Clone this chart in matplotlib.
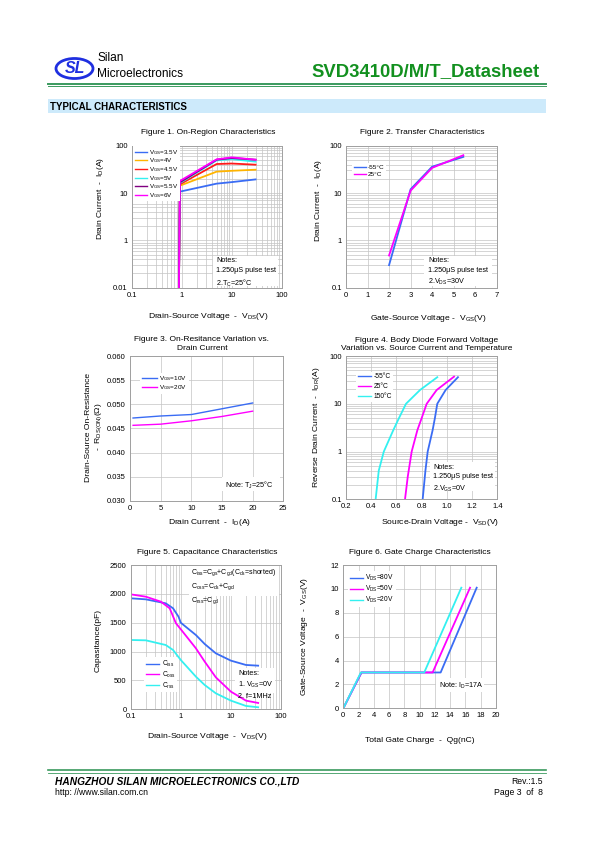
import matplotlib
matplotlib.use('Agg')
import matplotlib.pyplot as plt
import numpy as np
from matplotlib.patches import Ellipse, Rectangle
from matplotlib.ticker import FixedLocator, FixedFormatter, NullFormatter, LogLocator, MultipleLocator

plt.rcParams['font.family'] = ['Liberation Sans', 'DejaVu Sans']
plt.rcParams['mathtext.fontset'] = 'custom'
plt.rcParams['mathtext.rm'] = 'Liberation Sans'
plt.rcParams['mathtext.it'] = 'Liberation Sans'
plt.rcParams['mathtext.bf'] = 'Liberation Sans:bold'

# ---------------- data ----------------
# Figure 1: On-region characteristics
f1_vds = [0.88, 0.92, 5, 10, 30]
f1_labels = ['V$_{GS}$=3.5V', 'V$_{GS}$=4V', 'V$_{GS}$=4.5V', 'V$_{GS}$=5V', 'V$_{GS}$=5.5V', 'V$_{GS}$=6V']
f1_id_35 = [0.1, 10.7, 15.8, 17.0, 19.4]
f1_id_40 = [0.1, 14.3, 28.3, 29.5, 31.1]
f1_id_45 = [0.1, 15.3, 41.0, 42.0, 39.7]
f1_id_50 = [0.1, 16.2, 49.0, 52.0, 46.0]
f1_id_55 = [0.1, 16.8, 50.6, 54.9, 50.6]
f1_id_60 = [0.1, 18.0, 51.5, 56.7, 50.6]

# Figure 2: Transfer characteristics
f2_vgs = [2, 3, 4, 5.45]
f2_id_m55 = [0.30, 12.0, 36.0, 58.0]
f2_id_25 = [0.48, 11.2, 34.0, 63.0]

# Figure 3: On-resistance vs drain current
f3_id = [0.5, 5, 10, 15, 20]
f3_r_10v = [0.04718, 0.0476, 0.0479, 0.0491, 0.0503]
f3_r_20v = [0.04566, 0.0459, 0.0466, 0.0475, 0.0486]

# Figure 4: Body diode forward voltage
f4_v_150 = [0.435, 0.46, 0.50, 0.575, 0.62, 0.676, 0.787, 0.924]
f4_i_150 = [0.1, 0.4, 1.0, 2.8, 5.0, 10.0, 19.4, 36.0]
f4_v_25 = [0.668, 0.69, 0.721, 0.766, 0.80, 0.84, 0.919, 1.057]
f4_i_25 = [0.1, 0.3, 1.0, 2.8, 5.0, 10.0, 19.4, 37.0]
f4_v_m55 = [0.808, 0.83, 0.848, 0.887, 0.905, 0.924, 0.99, 1.088]
f4_i_m55 = [0.1, 0.4, 1.0, 2.8, 5.0, 10.0, 19.4, 36.0]

# Figure 5: Capacitance
f5_vds = [0.1, 0.2, 0.5, 0.7, 0.9, 1.0, 2, 3, 5, 10, 20, 35]
f5_ciss = [1923, 1905, 1836, 1750, 1605, 1500, 1287, 1131, 970, 843, 768, 756]
f5_vds_b = [0.1, 0.2, 0.4, 0.6, 0.8, 1.0, 2, 3, 5, 10, 20, 35]
f5_coss = [1992, 1951, 1865, 1750, 1490, 1386, 1057, 826, 554, 306, 150, 110]
f5_vds_c = [0.1, 0.2, 0.5, 0.7, 1.0, 2, 3, 5, 10, 20, 35]
f5_crss = [1201, 1195, 1114, 1028, 854, 566, 421, 277, 150, 58, 35]

# Figure 6: Gate charge
f6_q_80 = [0, 2.4, 12.75, 17.47]
f6_q_50 = [0, 2.35, 11.7, 16.6]
f6_q_20 = [0, 2.3, 10.6, 15.46]
f6_vgs = [0, 3.0, 3.0, 10.1]

BLUE = '#3a6cf4'
MAG = '#ff00ff'
CYAN = '#33f0f0'
ORANGE = '#ffb400'
RED = '#ff1a1a'
PURPLE = '#800080'
GRID = '#c4c4c4'
SPINE = '#a0a0a0'

W, H = 595, 842
fig = plt.figure(figsize=(W / 100, H / 100), dpi=100)


def pax(x0, y0, x1, y1):
    return fig.add_axes([x0 / W, 1 - y1 / H, (x1 - x0) / W, (y1 - y0) / H])


def style(ax):
    for s in ax.spines.values():
        s.set_color(SPINE)
        s.set_linewidth(0.7)
    ax.tick_params(which='both', length=0, labelsize=5.5, pad=3)
    ax.set_axisbelow(True)


def logaxis(axis):
    axis.set_minor_locator(LogLocator(base=10, subs=np.arange(2, 10), numticks=20))
    axis.set_minor_formatter(NullFormatter())


def leg(ax, x, y, spacing=0.25, hl=2.0, fs=4.6):
    lg = ax.legend(loc='upper left', bbox_to_anchor=(x, y), fontsize=fs, frameon=True,
                   fancybox=False, edgecolor='none', facecolor='white', framealpha=1,
                   handlelength=hl, handletextpad=0.35, labelspacing=spacing,
                   borderpad=0.25, borderaxespad=0)
    for ln in lg.get_lines():
        ln.set_linewidth(1.0)
    return lg


# ---------- Figure 1 ----------
ax1 = pax(131.7, 145.7, 281.7, 287.7)
style(ax1)
ax1.set_xscale('log'); ax1.set_yscale('log')
ax1.set_xlim(0.1, 100); ax1.set_ylim(0.1, 100)
logaxis(ax1.xaxis); logaxis(ax1.yaxis)
ax1.xaxis.set_major_locator(FixedLocator([0.1, 1, 10, 100]))
ax1.xaxis.set_major_formatter(FixedFormatter(['0.1', '1', '10', '100']))
ax1.yaxis.set_major_locator(FixedLocator([0.1, 1, 10, 100]))
ax1.yaxis.set_major_formatter(FixedFormatter(['0.01', '1', '10', '100']))
ax1.grid(True, which='both', color=GRID, lw=0.5)
for yv, c, lb in zip([f1_id_35, f1_id_40, f1_id_45, f1_id_50, f1_id_55, f1_id_60],
                     [BLUE, ORANGE, RED, CYAN, PURPLE, MAG], f1_labels):
    ax1.plot(f1_vds, yv, color=c, lw=1.3, label=lb)
leg(ax1, 0.01, 0.995, spacing=-0.05, hl=1.9, fs=4.5)

# ---------- Figure 2 ----------
ax2 = pax(346, 145.7, 496.7, 287.7)
style(ax2)
ax2.set_yscale('log')
ax2.set_xlim(0, 7); ax2.set_ylim(0.1, 100)
logaxis(ax2.yaxis)
ax2.xaxis.set_major_locator(MultipleLocator(1))
ax2.yaxis.set_major_locator(FixedLocator([0.1, 1, 10, 100]))
ax2.yaxis.set_major_formatter(FixedFormatter(['0.1', '1', '10', '100']))
ax2.grid(True, which='both', axis='y', color=GRID, lw=0.5)
ax2.grid(True, which='major', axis='x', color=GRID, lw=0.5)
ax2.plot(f2_vgs, f2_id_m55, color=BLUE, lw=1.3, label='-55°C')
ax2.plot(f2_vgs, f2_id_25, color=MAG, lw=1.3, label='25°C')
leg(ax2, 0.04, 0.88, spacing=0.3, hl=1.9)

# ---------- Figure 3 ----------
ax3 = pax(130, 356.3, 283.3, 500.7)
style(ax3)
ax3.set_xlim(0, 25); ax3.set_ylim(0.030, 0.060)
ax3.xaxis.set_major_locator(MultipleLocator(5))
ax3.yaxis.set_major_locator(MultipleLocator(0.005))
ax3.yaxis.set_major_formatter(matplotlib.ticker.FormatStrFormatter('%.3f'))
ax3.grid(True, which='major', color=GRID, lw=0.5)
ax3.plot(f3_id, f3_r_10v, color=BLUE, lw=1.0, label='V$_{GS}$=10V')
ax3.plot(f3_id, f3_r_20v, color=MAG, lw=1.0, label='V$_{GS}$=20V')
leg(ax3, 0.065, 0.885, spacing=0.0, hl=2.4)

# ---------- Figure 4 ----------
ax4 = pax(346, 356, 497.3, 499.3)
style(ax4)
ax4.set_yscale('log')
ax4.set_xlim(0.2, 1.4); ax4.set_ylim(0.1, 100)
logaxis(ax4.yaxis)
ax4.xaxis.set_major_locator(MultipleLocator(0.2))
ax4.xaxis.set_major_formatter(matplotlib.ticker.FormatStrFormatter('%.1f'))
ax4.yaxis.set_major_locator(FixedLocator([0.1, 1, 10, 100]))
ax4.yaxis.set_major_formatter(FixedFormatter(['0.1', '1', '10', '100']))
ax4.grid(True, which='both', axis='y', color=GRID, lw=0.5)
ax4.grid(True, which='major', axis='x', color=GRID, lw=0.5)
ax4.plot(f4_v_m55, f4_i_m55, color=BLUE, lw=1.3, label='-55°C')
ax4.plot(f4_v_25, f4_i_25, color=MAG, lw=1.3, label='25°C')
ax4.plot(f4_v_150, f4_i_150, color=CYAN, lw=1.3, label='150°C')
leg(ax4, 0.066, 0.89, spacing=0.45, hl=2.0, fs=4.8)

# ---------- Figure 5 ----------
ax5 = pax(130.7, 565, 281, 709.3)
style(ax5)
ax5.set_xscale('log')
ax5.set_xlim(0.1, 100); ax5.set_ylim(0, 2500)
logaxis(ax5.xaxis)
ax5.xaxis.set_major_locator(FixedLocator([0.1, 1, 10, 100]))
ax5.xaxis.set_major_formatter(FixedFormatter(['0.1', '1', '10', '100']))
ax5.yaxis.set_major_locator(MultipleLocator(500))
ax5.grid(True, which='both', axis='x', color=GRID, lw=0.5)
ax5.grid(True, which='major', axis='y', color=GRID, lw=0.5)
ax5.plot(f5_vds, f5_ciss, color=BLUE, lw=1.3, label='C$_{iss}$')
ax5.plot(f5_vds_b, f5_coss, color=MAG, lw=1.3, label='C$_{oss}$')
ax5.plot(f5_vds_c, f5_crss, color=CYAN, lw=1.3, label='C$_{rss}$')
leg(ax5, 0.09, 0.36, spacing=0.08, hl=2.0, fs=4.8)

# ---------- Figure 6 ----------
ax6 = pax(343.3, 565, 496, 708.3)
style(ax6)
ax6.set_xlim(0, 20); ax6.set_ylim(0, 12)
ax6.xaxis.set_major_locator(MultipleLocator(2))
ax6.yaxis.set_major_locator(MultipleLocator(2))
ax6.grid(True, which='major', color=GRID, lw=0.5)
ax6.plot(f6_q_80, f6_vgs, color=BLUE, lw=1.3, label='V$_{DS}$=80V')
ax6.plot(f6_q_50, f6_vgs, color=MAG, lw=1.3, label='V$_{DS}$=50V')
ax6.plot(f6_q_20, f6_vgs, color=CYAN, lw=1.3, label='V$_{DS}$=20V')
leg(ax6, 0.03, 0.955, spacing=0.12, hl=2.0, fs=4.8)

# ---------- overlay (page furniture, titles, labels, notes) ----------
ov = fig.add_axes([0, 0, 1, 1], zorder=10)
ov.set_xlim(0, W); ov.set_ylim(H, 0)
ov.axis('off')
ov.patch.set_alpha(0)


def T(x, y, s, size, ha='left', va='center', **kw):
    return ov.text(x, y, s, fontsize=size, ha=ha, va=va, **kw)


def note(x, y, s, size=5.2, box=None):
    if box is not None:
        bx0, by0, bx1, by1 = box
        ov.add_patch(Rectangle((bx0, by0), bx1 - bx0, by1 - by0, facecolor='white',
                               edgecolor='none', zorder=1))
    return ov.text(x, y, s, fontsize=size, ha='left', va='top', linespacing=1.45, zorder=2)


# header
ov.add_patch(Ellipse((74.5, 68.5), 37, 20, facecolor='none', edgecolor='#1f2fe0', lw=2.0))
T(74.5, 68.5, 'SL', 11.5, ha='center', style='italic', weight='bold', color='#1f2fe0')
T(97, 58, 'Silan', 8.6)
T(97, 74, 'Microelectronics', 8.6)
T(540, 72, 'SVD3410D/M/T_Datasheet', 13.3, ha='right', weight='bold', color='#12901f')
ov.plot([48, 546], [83.5, 83.5], color='#3a9a5e', lw=1.4)
ov.plot([48, 546], [86.0, 86.0], color='#3a9a5e', lw=0.7)
ov.add_patch(Rectangle((48, 99.3), 498, 14, facecolor='#cdeafb', edgecolor='none'))
T(50, 106.5, 'TYPICAL CHARACTERISTICS', 7, weight='bold')

# footer
ov.plot([48, 546], [770.3, 770.3], color='#3a9a5e', lw=1.2)
ov.plot([48, 546], [772.5, 772.5], color='#3a9a5e', lw=0.6)
T(55, 781.5, 'HANGZHOU SILAN MICROELECTRONICS CO.,LTD', 7.25, weight='bold', style='italic')
T(55, 792.5, 'http: //www.silan.com.cn', 6.2)
T(543, 781.5, 'Rev.:1.5', 6.2, ha='right')
T(543, 792.5, 'Page 3  of  8', 6.2, ha='right')

TS = 6.0   # title size
LS = 6.1   # axis label size

# Figure 1 texts
T(208, 132.5, 'Figure 1. On-Region Characteristics', TS, ha='center')
T(208, 316.5, 'Drain-Source Voltage  -  V$_{DS}$(V)', LS, ha='center')
T(100, 198, 'Drain Current  -  I$_{D}$(A)', LS, ha='center', rotation=90)
note(216.5, 257.5, 'Notes:\n1.250μS pulse test\n2.T$_{C}$=25°C', box=(213, 256, 278, 286))

# Figure 2 texts
T(422, 132.5, 'Figure 2. Transfer Characteristics', TS, ha='center')
T(428, 318.5, 'Gate-Source Voltage -  V$_{GS}$(V)', LS, ha='center')
T(318, 200, 'Drain Current  -  I$_{D}$(A)', LS, ha='center', rotation=90)
note(428, 257.5, 'Notes:\n1.250μS pulse test\n2.V$_{DS}$=30V', box=(424, 256, 492, 286))

# Figure 3 texts
T(202, 344, 'Figure 3. On-Resitance Variation vs.\nDrain Current', TS, ha='center', linespacing=1.35)
T(210, 523, 'Drain Current  -  I$_{D}$(A)', LS, ha='center')
T(94.5, 427, 'Drain-Source On-Resistance\n-  R$_{DS(ON)}$(Ω)', LS, ha='center', rotation=90,
  linespacing=1.25)
note(225, 480, 'Note: T$_{J}$=25°C', box=(222, 477, 280, 491))

# Figure 4 texts
T(427, 344.5, 'Figure 4. Body Diode Forward Voltage\nVariation vs. Source Current and Temperature', TS,
  ha='center', linespacing=1.35)
T(440, 522.5, 'Source-Drain Voltage -  V$_{SD}$(V)', LS, ha='center')
T(316.5, 427, 'Reverse Drain Current  -  I$_{DR}$(A)', LS, ha='center', rotation=90)
note(433, 464, 'Notes:\n1.250μS pulse test\n2.V$_{GS}$=0V', box=(430, 462, 495, 491))

# Figure 5 texts
T(207, 552.5, 'Figure 5. Capacitance Characteristics', TS, ha='center')
T(207, 737, 'Drain-Source Voltage  -  V$_{DS}$(V)', LS, ha='center')
T(98, 640, 'Capasitance(pF)', LS, ha='center', rotation=90)
note(191, 567.5, 'C$_{iss}$=C$_{gs}$+C$_{gd}$(C$_{ds}$=shorted)\nC$_{oss}$=C$_{ds}$+C$_{gd}$\nC$_{rss}$=C$_{gd}$',
     size=5.0, box=(189, 566, 279, 596))
note(238, 670, 'Notes:\n1. V$_{GS}$=0V\n2. f=1MHz', box=(235, 668, 275, 693))

# Figure 6 texts
T(420, 552.5, 'Figure 6. Gate Charge Characteristics', TS, ha='center')
T(420, 740, 'Total Gate Charge  -  Qg(nC)', LS, ha='center')
T(305, 637, 'Gate-Source Voltage  -  V$_{GS}$(V)', LS, ha='center', rotation=90)
note(439, 680.5, 'Note: I$_{D}$=17A', box=(436, 678, 484, 692))

fig.savefig('out.png', dpi=100)
